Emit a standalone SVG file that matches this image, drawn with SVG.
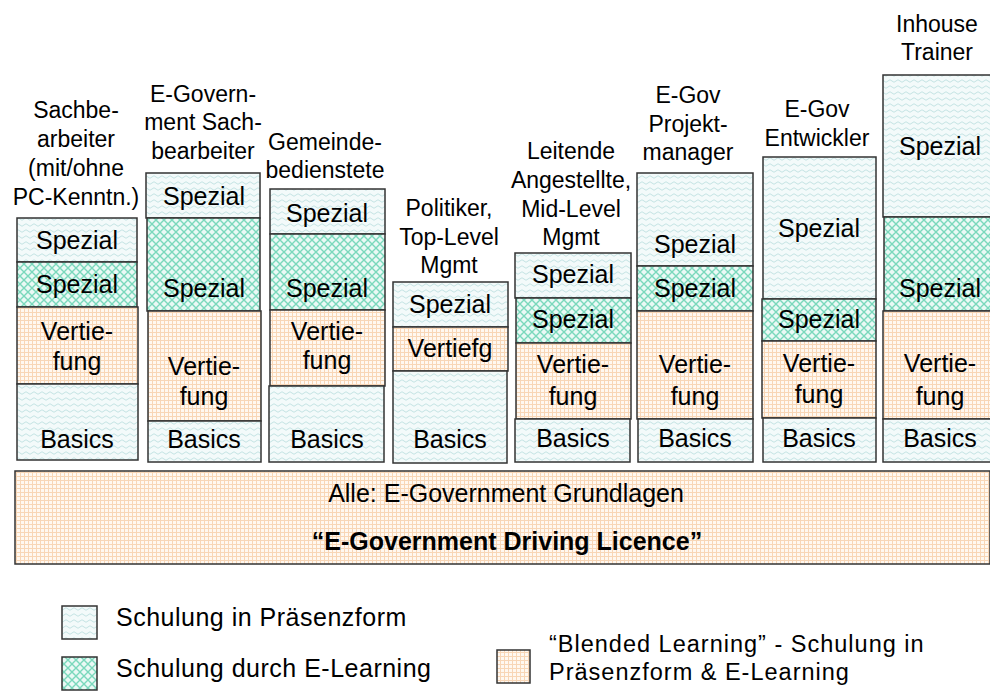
<svg xmlns="http://www.w3.org/2000/svg" width="990" height="691" viewBox="0 0 990 691">
<defs>
<pattern id="praes" width="8" height="6" patternUnits="userSpaceOnUse">
<rect width="8" height="6" fill="#f3fafa"/>
<path d="M0,3 Q2,0.5 4,3 T8,3" fill="none" stroke="#c3e3e3" stroke-width="1"/>
</pattern>
<pattern id="elearn" width="8" height="8" patternUnits="userSpaceOnUse">
<rect width="8" height="8" fill="#eaf9f5"/>
<path d="M-1,-1 L9,9 M9,-1 L-1,9" fill="none" stroke="#7ad8bc" stroke-width="1.4"/>
</pattern>
<pattern id="blend" width="4" height="4" patternUnits="userSpaceOnUse">
<rect width="4" height="4" fill="#fff8f0"/>
<path d="M0,0.5 H4 M0.5,0 V4" fill="none" stroke="#f8d6b6" stroke-width="1"/>
</pattern>
</defs>
<style>
text{font-family:"Liberation Sans",Arial,sans-serif;fill:#000}
.h{font-size:23px;text-anchor:middle}
.c{font-size:25px;text-anchor:middle}
.b{font-size:25px;text-anchor:middle}
.bb{font-size:25px;font-weight:bold;text-anchor:middle}
.l{font-size:25px;letter-spacing:0.5px}
.l2{font-size:23.5px;letter-spacing:1px}
.p{fill:url(#praes);stroke:#333;stroke-width:1.5}
.e{fill:url(#elearn);stroke:#333;stroke-width:1.5}
.v{fill:url(#blend);stroke:#333;stroke-width:1.5}
</style>
<rect width="990" height="691" fill="#fff"/>
<g id="connectors"/>

<g id="col1">
<text class="h" x="76" y="118">Sachbe-</text>
<text class="h" x="76" y="147">arbeiter</text>
<text class="h" x="76" y="176">(mit/ohne</text>
<text class="h" x="76" y="205">PC-Kenntn.)</text>
<rect class="p" x="17" y="218" width="120" height="44"/>
<rect class="e" x="17" y="262" width="120" height="45"/>
<rect class="v" x="17" y="307" width="121" height="77"/>
<rect class="p" x="17" y="384" width="121" height="76"/>
<text class="c" x="77" y="249">Spezial</text>
<text class="c" x="77" y="293">Spezial</text>
<text class="c" x="77" y="340">Vertie-</text>
<text class="c" x="77" y="370">fung</text>
<text class="c" x="77" y="448">Basics</text>
</g>

<g id="col2">
<text class="h" x="203" y="102">E-Govern-</text>
<text class="h" x="203" y="130">ment Sach-</text>
<text class="h" x="203" y="159">bearbeiter</text>
<rect class="p" x="146" y="173" width="114" height="45"/>
<rect class="e" x="147" y="218" width="113" height="93"/>
<rect class="v" x="148" y="311" width="113" height="110"/>
<rect class="p" x="148" y="421" width="113" height="41"/>
<text class="c" x="204" y="205">Spezial</text>
<text class="c" x="204" y="297">Spezial</text>
<text class="c" x="204" y="375">Vertie-</text>
<text class="c" x="204" y="405">fung</text>
<text class="c" x="204" y="448">Basics</text>
</g>

<g id="col3">
<text class="h" x="325" y="150">Gemeinde-</text>
<text class="h" x="325" y="178">bedienstete</text>
<rect class="p" x="270" y="189" width="115" height="45"/>
<rect class="e" x="270" y="234" width="115" height="76"/>
<rect class="v" x="270" y="310" width="115" height="76"/>
<rect class="p" x="269" y="386" width="115" height="76"/>
<text class="c" x="327" y="222">Spezial</text>
<text class="c" x="327" y="297">Spezial</text>
<text class="c" x="327" y="340">Vertie-</text>
<text class="c" x="327" y="369">fung</text>
<text class="c" x="327" y="448">Basics</text>
</g>

<g id="col4">
<text class="h" x="449" y="216">Politiker,</text>
<text class="h" x="449" y="245">Top-Level</text>
<text class="h" x="449" y="273">Mgmt</text>
<rect class="p" x="393" y="282" width="115" height="45"/>
<rect class="v" x="393" y="327" width="115" height="44"/>
<rect class="p" x="393" y="371" width="114" height="92"/>
<text class="c" x="450" y="313">Spezial</text>
<text class="c" x="450" y="357">Vertiefg</text>
<text class="c" x="450" y="448">Basics</text>
</g>

<g id="col5">
<text class="h" x="571" y="159">Leitende</text>
<text class="h" x="571" y="188">Angestellte,</text>
<text class="h" x="571" y="217">Mid-Level</text>
<text class="h" x="571" y="245">Mgmt</text>
<rect class="p" x="515" y="253" width="116" height="45"/>
<rect class="e" x="516" y="298" width="115" height="45"/>
<rect class="v" x="516" y="343" width="115" height="76"/>
<rect class="p" x="515" y="419" width="115" height="43"/>
<text class="c" x="573" y="283">Spezial</text>
<text class="c" x="573" y="328">Spezial</text>
<text class="c" x="573" y="373">Vertie-</text>
<text class="c" x="573" y="405">fung</text>
<text class="c" x="573" y="447">Basics</text>
</g>

<g id="col6">
<text class="h" x="688" y="103">E-Gov</text>
<text class="h" x="688" y="132">Projekt-</text>
<text class="h" x="688" y="160">manager</text>
<rect class="p" x="637" y="173" width="116" height="93"/>
<rect class="e" x="637" y="266" width="116" height="45"/>
<rect class="v" x="637" y="311" width="116" height="108"/>
<rect class="p" x="638" y="419" width="115" height="43"/>
<text class="c" x="695" y="253">Spezial</text>
<text class="c" x="695" y="297">Spezial</text>
<text class="c" x="695" y="373">Vertie-</text>
<text class="c" x="695" y="405">fung</text>
<text class="c" x="695" y="447">Basics</text>
</g>

<g id="col7">
<text class="h" x="817" y="117">E-Gov</text>
<text class="h" x="817" y="146">Entwickler</text>
<rect class="p" x="763" y="157" width="113" height="142"/>
<rect class="e" x="762" y="299" width="114" height="42"/>
<rect class="v" x="762" y="341" width="114" height="77"/>
<rect class="p" x="763" y="418" width="113" height="44"/>
<text class="c" x="819" y="237">Spezial</text>
<text class="c" x="819" y="328">Spezial</text>
<text class="c" x="819" y="372">Vertie-</text>
<text class="c" x="819" y="403">fung</text>
<text class="c" x="819" y="447">Basics</text>
</g>

<g id="col8">
<text class="h" x="937" y="32">Inhouse</text>
<text class="h" x="937" y="60">Trainer</text>
<rect class="p" x="883" y="75" width="108" height="142"/>
<rect class="e" x="884" y="217" width="107" height="94"/>
<rect class="v" x="883" y="311" width="108" height="108"/>
<rect class="p" x="883" y="419" width="108" height="43"/>
<text class="c" x="940" y="155">Spezial</text>
<text class="c" x="940" y="297">Spezial</text>
<text class="c" x="940" y="372">Vertie-</text>
<text class="c" x="940" y="405">fung</text>
<text class="c" x="940" y="447">Basics</text>
</g>

<g id="base">
<rect class="v" x="15" y="471" width="975" height="93"/>
<text class="b" x="506" y="502">Alle: E-Government Grundlagen</text>
<text class="bb" x="507" y="550">“E-Government Driving Licence”</text>
</g>

<g id="legend">
<rect class="p" x="62" y="606" width="35" height="33"/>
<text class="l" x="116" y="626">Schulung in Präsenzform</text>
<rect class="e" x="62" y="657" width="35" height="33"/>
<text class="l" x="116" y="677">Schulung durch E-Learning</text>
<rect class="v" x="497" y="650" width="33" height="33"/>
<text class="l2" x="549" y="652">“Blended Learning” - Schulung in</text>
<text class="l2" x="549" y="680">Präsenzform &amp; E-Learning</text>
</g>
</svg>
